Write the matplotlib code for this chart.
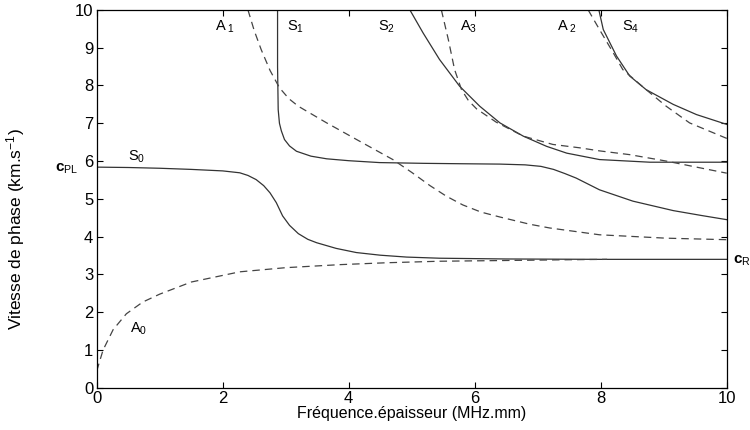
#!/usr/bin/env python3
# -*- coding: utf-8 -*-
"""
Courbes de dispersion des ondes de Lamb (vitesse de phase)
"""

import matplotlib
matplotlib.use('Agg')
from matplotlib import pyplot as plt

plt.rcParams['font.family'] = ['Liberation Sans', 'DejaVu Sans']
plt.rcParams['mathtext.fontset'] = 'custom'
plt.rcParams['mathtext.rm'] = 'Liberation Sans'
plt.rcParams['mathtext.it'] = 'Liberation Sans'

# =============================================================================
# Modes symetriques (traits pleins)
# =============================================================================
S0_FD = [0.0, 0.5, 1.0, 1.5, 2.0, 2.27, 2.4, 2.53, 2.65, 2.75, 2.85, 2.95,
         3.06, 3.2, 3.35, 3.49, 3.8, 4.12, 4.5, 4.92, 5.44, 6.5, 8.0, 10.0]
S0_V = [5.84, 5.83, 5.81, 5.78, 5.74, 5.69, 5.62, 5.51, 5.35, 5.16, 4.9,
        4.55, 4.3, 4.08, 3.93, 3.84, 3.69, 3.58, 3.51, 3.46, 3.43, 3.41,
        3.40, 3.40]

S1_FD = [2.87, 2.87, 2.88, 2.9, 2.93, 2.98, 3.06, 3.17, 3.4, 3.65, 4.0,
         4.49, 5.2, 5.76, 6.4, 6.8, 7.05, 7.25, 7.43, 7.61, 7.98, 8.51,
         9.15, 9.6, 10.0]
S1_V = [10.0, 8.5, 7.36, 7.0, 6.8, 6.57, 6.4, 6.26, 6.13, 6.06, 6.01, 5.96,
        5.94, 5.93, 5.92, 5.9, 5.86, 5.78, 5.67, 5.55, 5.24, 4.94, 4.69,
        4.56, 4.45]

S2_FD = [4.97, 5.18, 5.44, 5.76, 6.08, 6.4, 6.77, 7.14, 7.46, 7.98, 8.78,
         9.4, 10.0]
S2_V = [10.0, 9.39, 8.69, 7.98, 7.45, 7.01, 6.66, 6.39, 6.21, 6.04, 5.97,
        5.97, 5.97]

S4_FD = [7.97, 8.04, 8.25, 8.46, 8.72, 9.15, 9.52, 10.0]
S4_V = [10.0, 9.48, 8.78, 8.25, 7.89, 7.5, 7.23, 6.97]

# =============================================================================
# Modes antisymetriques (tirets)
# =============================================================================
A0_FD = [0.0, 0.02, 0.1, 0.26, 0.47, 0.73, 1.0, 1.5, 2.27, 3.0, 3.86, 4.6,
         5.44, 6.5, 7.5, 8.1]
A0_V = [0.45, 0.56, 1.0, 1.54, 1.96, 2.27, 2.48, 2.8, 3.07, 3.18, 3.26,
        3.31, 3.35, 3.37, 3.39, 3.40]

A1_FD = [2.4, 2.5, 2.61, 2.75, 2.9, 3.05, 3.2, 3.65, 4.2, 4.7, 5.0, 5.29,
         5.55, 5.81, 6.1, 6.4, 6.87, 7.19, 7.98, 9.04, 10.0]
A1_V = [10.0, 9.45, 8.95, 8.4, 7.94, 7.65, 7.45, 7.01, 6.5, 6.04, 5.7,
        5.35, 5.07, 4.84, 4.65, 4.52, 4.33, 4.23, 4.05, 3.96, 3.92]

A3_FD = [5.47, 5.58, 5.68, 5.79, 5.9, 6.03, 6.34, 6.77, 7.24, 7.67, 7.98,
         8.46, 9.04, 10.0]
A3_V = [10.0, 9.22, 8.42, 7.89, 7.6, 7.38, 7.03, 6.66, 6.44, 6.35, 6.27,
        6.17, 6.0, 5.68]

A2_FD = [7.8, 7.98, 8.2, 8.35, 8.72, 9.04, 9.41, 10.0]
A2_V = [10.0, 9.48, 8.86, 8.42, 7.89, 7.45, 7.01, 6.6]

C_PL = 5.84
C_R = 3.40

MODE_LABELS = [r'A$_{\ 1}$', r'S$_1$', r'S$_2$', r'A$_3$', r'A$_{\ 2}$',
               r'S$_4$', r'S$_0$', r'A$_0$']
LABEL_FD = [1.87, 3.02, 4.46, 5.76, 7.3, 8.33, 0.49, 0.52]
LABEL_V = [9.56, 9.56, 9.56, 9.56, 9.56, 9.56, 6.1, 1.55]


def plot_dispersion() -> None:
    fig = plt.figure(figsize=(7.5, 4.3), dpi=100)
    ax = fig.add_axes([0.129, 0.098, 0.84, 0.879])

    line_kw = dict(color='#333333', linewidth=0.9)
    dash_kw = dict(color='#444444', linewidth=0.9, linestyle=(0, (6, 4)))

    for fd, v in ((S0_FD, S0_V), (S1_FD, S1_V), (S2_FD, S2_V), (S4_FD, S4_V)):
        ax.plot(fd, v, **line_kw)
    for fd, v in ((A0_FD, A0_V), (A1_FD, A1_V), (A3_FD, A3_V), (A2_FD, A2_V)):
        ax.plot(fd, v, **dash_kw)

    for label, x, y in zip(MODE_LABELS, LABEL_FD, LABEL_V):
        ax.text(x, y, label, fontsize=10.5, ha='left', va='center')

    ax.text(-0.48, C_PL - 0.05, r'c$_{\rm PL}$', fontsize=11, ha='center',
            va='center', fontweight='bold')
    ax.text(10.1, C_R - 0.05, r'c$_{\rm R}$', fontsize=11, ha='left',
            va='center', fontweight='bold')

    ax.set_xlim(0, 10)
    ax.set_ylim(0, 10)
    ax.set_xticks(range(0, 11, 2))
    ax.set_yticks(range(0, 11))
    ax.tick_params(direction='in', top=True, right=True, labelsize=12,
                   length=4, width=0.8, pad=2.5)
    for spine in ax.spines.values():
        spine.set_linewidth(0.9)

    ax.set_xlabel('Fréquence.épaisseur (MHz.mm)', fontsize=11.5, labelpad=0)
    ax.set_ylabel(r'Vitesse de phase (km.s$^{-1}$)', fontsize=12.5)
    ax.yaxis.set_label_coords(-0.11, 0.42)

    fig.savefig('out.png', dpi=100)


if __name__ == '__main__':
    plot_dispersion()
